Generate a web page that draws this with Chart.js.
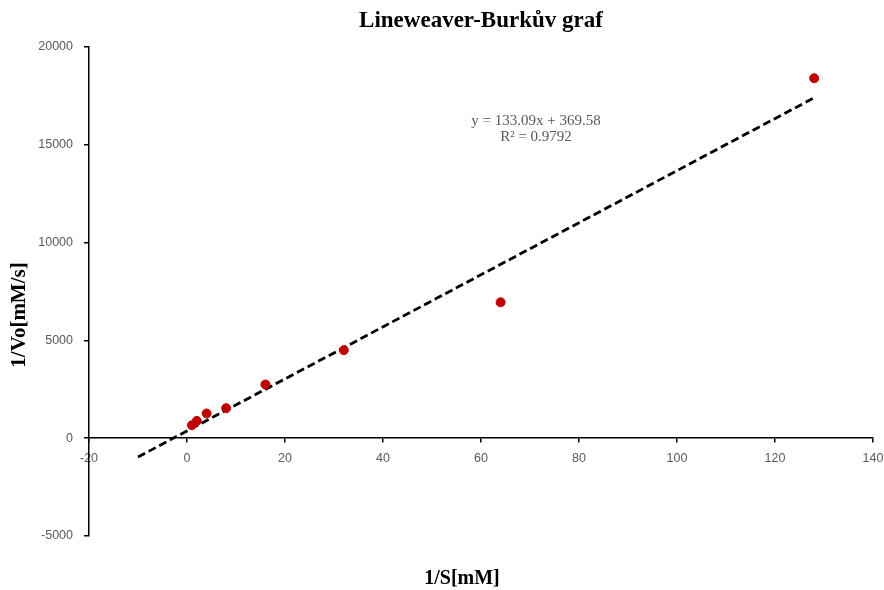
<!DOCTYPE html>
<html>
<head>
<meta charset="utf-8">
<script src="https://cdn.jsdelivr.net/npm/chart.js@4/dist/chart.umd.min.js"></script>
<style>
  html, body { margin: 0; padding: 0; background: #fff; }
  #wrap { width: 884px; height: 590px; }
</style>
</head>
<body>
<div id="wrap"><canvas id="chartLB"></canvas></div>
<script>
// --- DATA ---
const invS = [1, 2, 4, 8, 16, 32, 64, 128];          // 1/S [mM]
const invV = [665, 885, 1265, 1535, 2745, 4500, 6950, 18400]; // 1/Vo [mM/s]
const trendX = [-10, 128];
const trendY = [-961, 17405];
const xTicks = [-20, 0, 20, 40, 60, 80, 100, 120, 140];
const yTicks = [-5000, 0, 5000, 10000, 15000, 20000];
const equationLines = ['y = 133.09x + 369.58', 'R² = 0.9792'];

const serif = "'Liberation Serif', 'Times New Roman', serif";
const tickFont = { family: "'Liberation Sans', Arial, sans-serif", size: 12.5 };
const tickColor = '#595959';

// --- texts: title, axis titles, trendline equation ---
const annotations = {
    id: 'annotations',
    afterDraw(chart) {
        const ctx = chart.ctx;
        ctx.save();
        ctx.textAlign = 'center';
        ctx.textBaseline = 'middle';

        ctx.fillStyle = '#000';
        ctx.font = 'bold 23px ' + serif;
        ctx.fillText('Lineweaver-Burkův graf', 481, 21);

        ctx.font = 'bold 20px ' + serif;
        ctx.fillText('1/S[mM]', 462, 579);

        ctx.save();
        ctx.translate(20, 315);
        ctx.rotate(-Math.PI / 2);
        ctx.font = 'bold 21px ' + serif;
        ctx.fillText('1/Vo[mM/s]', 0, 0);
        ctx.restore();

        ctx.fillStyle = '#595959';
        ctx.font = '15px ' + serif;
        ctx.fillText(equationLines[0], 536, 121);
        ctx.fillText(equationLines[1], 536, 137);
        ctx.restore();
    }
};

const ctxLB = document.getElementById('chartLB').getContext('2d');
new Chart(ctxLB, {
    type: 'scatter',
    data: {
        datasets: [
            {
                label: 'data',
                data: invS.map((x, i) => ({ x: x, y: invV[i] })),
                backgroundColor: '#C00000',
                borderColor: '#C00000',
                pointRadius: 4.5,
                order: 1
            },
            {
                label: 'trend',
                type: 'line',
                data: trendX.map((x, i) => ({ x: x, y: trendY[i] })),
                borderColor: '#000',
                borderWidth: 2.8,
                borderDash: [8, 4],
                pointRadius: 0,
                fill: false,
                order: 2
            }
        ]
    },
    options: {
        responsive: true,
        maintainAspectRatio: false,
        animation: false,
        layout: { padding: { top: 47, bottom: 54, right: 11, left: 0 } },
        plugins: {
            legend: { display: false },
            tooltip: { enabled: false },
            title: { display: false }
        },
        scales: {
            x: {
                type: 'linear',
                position: { y: 0 },
                min: -20,
                max: 140,
                afterBuildTicks: s => { s.ticks = xTicks.map(v => ({ value: v })); },
                afterFit: s => { s.paddingLeft = 0; s.paddingRight = 0; },
                grid: { drawOnChartArea: false, drawTicks: true, tickLength: 4, color: '#000', lineWidth: 1.5 },
                border: { display: true, color: '#000', width: 1.5 },
                ticks: { color: tickColor, font: tickFont, padding: 9, maxRotation: 0,
                         callback: v => String(v) }
            },
            y: {
                type: 'linear',
                position: 'left',
                min: -5000,
                max: 20000,
                afterBuildTicks: s => { s.ticks = yTicks.map(v => ({ value: v })); },
                afterFit: s => { s.width = 89; },
                grid: { drawOnChartArea: false, drawTicks: true, tickLength: 5, color: '#000', lineWidth: 1.5 },
                border: { display: true, color: '#000', width: 1.5 },
                ticks: { color: tickColor, font: tickFont, padding: 11,
                         callback: v => String(v) }
            }
        }
    },
    plugins: [annotations]
});
</script>
</body>
</html>
